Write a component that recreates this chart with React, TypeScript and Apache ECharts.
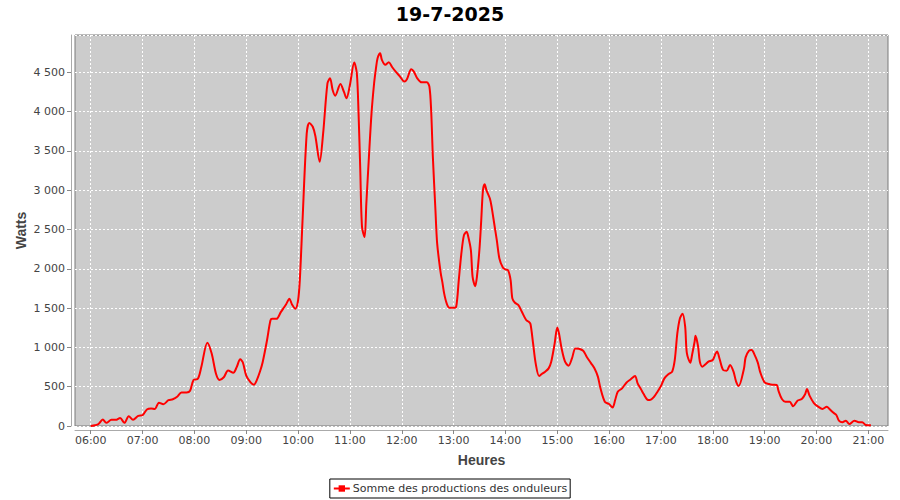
import React, { useEffect, useRef } from "react";
import * as echarts from "echarts";

const title = "19-7-2025";
const seriesName = "Somme des productions des onduleurs";
const xAxisName = "Heures";
const yAxisName = "Watts";

// minutes after 06:00
const minutes: number[] = [
  0, 5, 9, 14, 18, 24, 29, 34, 39, 44, 49, 55, 60, 65, 70, 74, 79, 84, 90, 95, 100, 105, 111, 115, 119, 124, 128, 135, 140, 145, 149, 154, 159, 165, 169, 173,
  176, 180, 185, 189, 192, 196, 199, 204, 208, 210, 215, 220, 226, 230, 233, 237, 240, 242,
  245, 250, 253, 257, 260, 265, 269, 274, 277, 280, 283, 289, 293, 296, 300, 305, 308, 310, 312, 314, 317, 319, 322, 325, 328, 330, 332, 335, 337, 341, 345, 349, 353, 358, 363, 366, 371, 374, 378, 383, 389, 392, 394, 396, 399, 401,
  405, 407, 409, 412, 415, 420, 423, 426, 429, 432, 435, 437, 440, 442, 445, 447, 450, 452, 454, 456, 458, 462, 464, 467, 470, 473, 477, 480, 483, 486, 488, 491, 495, 499, 504, 507, 509, 512, 515, 519, 522, 526, 530, 533, 537, 540, 542, 545, 549, 553, 557, 561, 565, 570, 574,
  579, 583, 587, 590, 595, 600, 604, 607, 610, 615, 620, 625, 630, 633, 637, 640, 644, 647, 652, 656, 660, 664, 669, 673, 676, 679, 682, 685, 688, 690, 694, 696, 699, 700, 703, 705, 708, 712, 715, 720, 723, 725, 728, 732, 736, 740, 744, 747, 750,
  756, 758, 762, 765, 768, 772, 775, 780, 785, 789, 794, 796, 800, 804, 809, 813, 818, 823, 827, 829, 832, 837, 842, 847, 852, 855, 859, 863, 866, 870, 874, 878, 884, 889, 893, 897, 903,
];

const watts: number[] = [
  0, 10, 26, 82, 40, 78, 78, 103, 40, 125, 78, 130, 138, 211, 224, 215, 297, 276, 328, 340, 371, 427, 427, 448, 586, 600, 750, 1060, 922, 664, 586, 620, 707, 677, 750, 850,
  811, 641, 556, 526, 577, 696, 811, 1087, 1342, 1363, 1363, 1448, 1546, 1618, 1546, 1491, 1597, 1852,
  2574, 3722, 3855, 3807, 3690, 3360, 3722, 4360, 4423, 4275, 4202, 4351, 4253, 4168, 4338, 4623, 4487, 3977, 3254, 2531, 2404, 2829, 3424, 3977, 4360, 4538, 4679, 4742, 4657, 4594, 4628, 4564, 4508, 4445, 4381, 4411, 4538, 4508, 4423, 4372, 4372, 4317, 4020, 3424, 2744, 2319,
  1950, 1830, 1690, 1559, 1504, 1504, 1517, 1856, 2195, 2428, 2470, 2407, 2237, 1898, 1779, 1898, 2258, 2619, 3000, 3076, 3000, 2894, 2788, 2576, 2364, 2131, 2017, 1992, 1983, 1856, 1623, 1568, 1538, 1453, 1348, 1326, 1297, 1051, 797, 636, 661, 691, 733, 818, 1051, 1254, 1178, 987, 818, 767, 860, 987, 983, 958, 882,
  800, 734, 628, 479, 309, 279, 236, 330, 436, 479, 551, 594, 636, 543, 466, 406, 338, 330, 372, 436, 509, 606, 662, 692, 840, 1181, 1372, 1428, 1266, 926, 806, 904, 1075, 1147, 1011, 819, 755, 789, 819, 840, 917, 947, 849, 713, 704, 777, 692, 564, 509,
  725, 873, 958, 966, 915, 809, 682, 555, 534, 525, 521, 449, 343, 309, 309, 250, 322, 343, 407, 470, 386, 292, 246, 216, 246, 216, 174, 140, 68, 47, 68, 25, 68, 47, 47, 13, 8,
];

const hourTicks: number[] = [6, 7, 8, 9, 10, 11, 12, 13, 14, 15, 16, 17, 18, 19, 20, 21];

const pad = (n: number) => (n < 10 ? "0" + n : "" + n);
const fmtTime = (m: number) => pad(Math.floor(m / 60)) + ":" + pad(Math.round(m % 60));
const fmtWatts = (v: number) => {
  const s = Math.round(v).toString();
  return s.length > 3 ? s.slice(0, s.length - 3) + " " + s.slice(s.length - 3) : s;
};

export default function App() {
  const ref = useRef<HTMLDivElement>(null);
  useEffect(() => {
    if (!ref.current) return;
    const chart = echarts.init(ref.current, undefined, { renderer: "svg" });
    const data = minutes.map((m, i) => [360 + m, watts[i]]);
    const tickValues = hourTicks.map((h) => h * 60);
    const font = "DejaVu Sans";
    const nameFont = "Liberation Sans";
    chart.setOption({
      animation: false,
      backgroundColor: "#ffffff",
      textStyle: { fontFamily: font },
      title: {
        text: title,
        left: "center",
        top: -1,
        textStyle: { fontSize: 19, fontWeight: "bold", color: "#000", fontFamily: font },
      },
      grid: {
        left: 75,
        right: 12,
        top: 35,
        bottom: 74,
        show: true,
        backgroundColor: "#CCCCCC",
        borderColor: "#7a7a7a",
        borderWidth: 1,
      },
      legend: {
        bottom: 2,
        left: "center",
        data: [seriesName],
        borderColor: "#000",
        borderWidth: 1,
        borderRadius: 0,
        padding: [4, 3, 4, 3],
        itemWidth: 16,
        itemHeight: 8,
        itemGap: 5,
        backgroundColor: "#fff",
        textStyle: { fontSize: 11, color: "#333", fontFamily: font, padding: [0, 0, 0, -2] },
      },
      xAxis: {
        type: "value",
        min: 341.8,
        max: 1282.8,
        offset: 4,
        name: xAxisName,
        nameLocation: "middle",
        nameGap: 23,
        nameMoveOverlap: false,
        nameTextStyle: { fontSize: 14, fontWeight: "bold", color: "#444", fontFamily: nameFont },
        axisLine: { show: true, onZero: false, lineStyle: { color: "#aaaaaa" } },
        axisTick: { show: true, length: 4, customValues: tickValues, lineStyle: { color: "#888" } },
        axisLabel: {
          customValues: tickValues,
          margin: 5,
          fontSize: 11,
          color: "#444",
          fontFamily: font,
          formatter: (v: number) => fmtTime(v),
        },
        splitLine: { show: true, lineStyle: { color: "#ffffff", type: [2, 2], width: 1 } },
      },
      yAxis: {
        type: "value",
        min: 0,
        max: 4974,
        interval: 500,
        offset: 4,
        name: yAxisName,
        nameLocation: "middle",
        nameRotate: 90,
        nameGap: 43,
        nameMoveOverlap: false,
        nameTextStyle: { fontSize: 14, fontWeight: "bold", color: "#444", fontFamily: nameFont },
        axisLine: { show: true, lineStyle: { color: "#aaaaaa" } },
        axisTick: { show: true, length: 4, lineStyle: { color: "#888" } },
        axisLabel: {
          margin: 6,
          fontSize: 11,
          color: "#444",
          fontFamily: font,
          showMaxLabel: false,
          formatter: (v: number) => (v % 500 === 0 ? fmtWatts(v) : ""),
        },
        splitLine: { show: true, lineStyle: { color: "#ffffff", type: [2, 2], width: 1 } },
      },
      series: [
        {
          name: seriesName,
          type: "line",
          data,
          smooth: 0.3,
          symbol: "rect",
          symbolSize: 3,
          showSymbol: false,
          lineStyle: { color: "#ff0000", width: 2 },
          itemStyle: { color: "#ff0000" },
        },
      ],
    });
    return () => chart.dispose();
  }, []);
  return <div ref={ref} style={{ width: 900, height: 500, position: "absolute", left: 0, top: 0 }} />;
}
